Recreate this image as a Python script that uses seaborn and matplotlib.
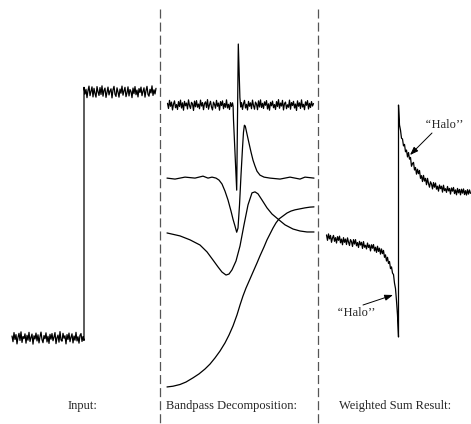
import numpy as np
import pandas as pd
import matplotlib
matplotlib.use("Agg")
import matplotlib.pyplot as plt
import seaborn as sns
from matplotlib.lines import Line2D

sns.set_style("white")
plt.rcParams['font.family'] = ['Liberation Serif', 'DejaVu Serif']
plt.rcParams['lines.scale_dashes'] = False


def samples(a, b):
    """sample positions a..b (inclusive) every half step"""
    return list(np.round(np.arange(a, b + 0.25, 0.5), 2))


# ---------------- data (amplitude units: input step = 100) ----------------
INPUT_T_LOW = samples(-36, 0)
INPUT_LOW = [0.8, -1.5, 2.2, -0.6, 1.4, -2.4, 0.3, 1.9, -1.0, 2.5,
             -1.8, 0.6, -0.2, 1.7, -2.1, 1.1, -0.9, 2.3, -1.4, 0.2,
             1.6, -2.5, 0.9, -0.4, 2.0, -1.2, 1.3, -2.0, 0.5, 2.4,
             -0.7, -1.9, 1.0, -0.3, 2.1, -1.6, 0.7, -2.2, 1.5, -0.5,
             1.8, -1.1, 0.4, 2.2, -2.3, 0.1, 1.2, -1.7, 2.6, -0.8,
             -1.3, 1.9, -0.1, 0.9, -2.4, 1.4, -0.6, 2.0, -1.5, 0.3,
             1.7, -2.0, 0.8, -0.9, 2.3, -1.2, 0.5, -2.1, 1.1, 1.8,
             -1.4, 0.6, -1.0]
INPUT_T_HIGH = samples(0, 36)
INPUT_HIGH = [101.9, 99.2, 101.1, 97.7, 100.6, 102.4, 98.5, 100.3, 102.1, 98.0,
              101.5, 99.4, 97.9, 102.2, 100.1, 98.6, 101.8, 99.0, 102.5, 98.3,
              100.7, 101.6, 97.8, 99.9, 102.0, 98.8, 100.4, 101.3, 97.6, 100.9,
              102.3, 99.1, 98.2, 101.7, 100.0, 97.9, 101.2, 99.5, 102.4, 98.7,
              100.5, 101.9, 98.1, 99.7, 102.1, 98.4, 101.0, 100.2, 97.7, 101.6,
              99.3, 102.2, 98.9, 100.8, 98.0, 101.4, 99.8, 102.0, 98.5, 100.3,
              101.7, 97.9, 100.6, 102.3, 99.0, 98.3, 101.1, 99.6, 102.5, 98.6,
              100.9, 99.2, 101.5]

# band 1 (finest, noisy)
BAND1_T = samples(-35, -2.5) + [-2.2, -2.0, -0.4, 0.4, 1.2, 1.6] + samples(2, 38)
BAND1 = [0.7, -1.4, 1.9, -0.5, 1.2, -2.0, 0.4, 1.7, -1.1, 0.2,
         -1.8, 1.4, -0.6, 2.0, -1.2, 0.9, -2.1, 1.5, -0.3, 0.8,
         -1.6, 2.1, -0.2, -1.4, 1.1, 0.5, -2.2, 1.6, -0.7, 1.8,
         -0.9, 0.4, -1.5, 2.0, -0.4, 1.0, -1.9, 0.6, 1.3, -1.0,
         2.2, -1.7, 0.1, 1.5, -0.8, -2.0, 1.2, 0.3, -1.3, 1.9,
         -0.5, 0.8, -2.1, 1.4, -0.2, 1.7, -1.5, 0.6, -0.9, 2.1,
         -1.2, 0.3, -1.8, 1.0, -0.6, 0.9,
         -0.5, -6.0, -34.6, 24.8, 3.0, -0.8,
         1.0, -1.8, 0.6, 1.9, -1.2, 0.3, -2.0, 1.5, -0.5, 0.9,
         -1.5, 2.0, -0.2, -1.7, 1.2, 0.4, -1.9, 1.7, -0.8, 2.1,
         -1.0, 0.7, -1.4, 1.3, -0.1, 1.8, -1.6, 0.5, -2.1, 1.1,
         -0.3, 1.6, -1.1, 0.2, -1.8, 1.4, -0.6, 2.2, -1.3, 0.8,
         -0.4, 1.9, -2.0, 0.6, 1.2, -1.5, 0.1, -0.9, 2.0, -1.7,
         1.0, -0.2, 1.5, -1.2, 0.4, -2.2, 1.7, -0.5, 0.9, -1.4,
         2.1, -0.8, 0.3, -1.9, 1.3, -0.1, 1.8, -1.6, 0.7, -1.0,
         1.4, -0.4, 0.6]

BAND2_T = [-35.25, -31.25, -26.25, -21.25, -17.25, -14.75, -12.75, -10.75, -9.25, -7.75,
           -6.25, -4.75, -3.25, -2.25, -1.25, -0.4, 0.25, 1.0, 1.75, 2.5,
           3.0, 3.45, 3.9, 4.75, 5.75, 6.75, 7.75, 8.75, 9.75, 11.25,
           13.25, 16.25, 21.25, 26.25, 31.25, 33.75, 38.25]
BAND2 = [0, -0.4, 0.4, 0, 0.8, 0, 0.4, 0, -0.8, -2.4,
         -5.3, -8.9, -13.4, -16.7, -19.5, -22.0, -20.3, -11.0, 1.2, 12.2,
         18.7, 21.5, 21.1, 17.9, 14.2, 10.6, 7.3, 4.9, 2.8, 1.2,
         0.4, 0, -0.4, 0.4, -0.4, 0.4, 0]

BAND3_T = [-35.25, -28.75, -23.75, -18.75, -15.25, -12.25, -9.75, -7.75, -5.75, -4.25,
           -2.75, -0.75, 1.25, 3.25, 5.25, 7.25, 8.75, 10.25, 12.25, 14.75,
           17.25, 20.75, 23.75, 27.75, 31.25, 34.75, 38.25]
BAND3 = [0, -1.2, -2.8, -4.9, -7.7, -11.0, -13.8, -15.9, -17.1, -16.7,
         -15.0, -11.4, -5.3, 3.3, 11.4, 16.3, 16.7, 15.9, 13.4, 10.2,
         7.7, 5.3, 3.3, 1.6, 0.8, 0.4, 0.4]

BAND4_T = [-35.25, -32.25, -28.75, -25.75, -22.25, -19.25, -16.25, -13.75, -11.25, -8.75,
           -6.25, -4.25, -2.25, -0.25, 1.25, 2.75, 4.25, 6.25, 7.75, 9.75,
           11.25, 13.25, 14.75, 16.25, 17.75, 19.25, 20.75, 22.75, 24.75, 26.75,
           28.75, 31.25, 33.75, 36.25, 38.25]
BAND4 = [0, 0.3, 1.0, 2.0, 3.7, 5.3, 7.3, 9.3, 11.8, 14.6,
         17.9, 21.1, 24.8, 29.3, 33.3, 37.0, 40.2, 43.9, 46.7, 50.4,
         53.3, 56.9, 59.8, 62.2, 64.6, 66.7, 68.3, 69.5, 70.7, 71.5,
         72.0, 72.4, 72.8, 73.1, 73.2]

BANDS_T = [BAND1_T, BAND2_T, BAND3_T, BAND4_T]
BANDS = [BAND1, BAND2, BAND3, BAND4]
BAND_OFFSETS = [94.7, 65.0, 42.7, -19.9]

SUM_T = samples(-36, -0.5) + [0, 0] + samples(0.5, 36)
SUM = [41.9, 39.7, 42.3, 40.3, 41.7, 38.9, 40.7, 41.7, 39.3, 40.8,
       38.6, 41.2, 39.7, 41.4, 38.7, 40.2, 37.9, 40.8, 38.9, 40.2,
       38.0, 40.7, 39.0, 37.6, 40.0, 39.2, 37.2, 40.0, 38.2, 40.0,
       37.5, 38.8, 36.8, 39.3, 37.8, 38.9, 36.4, 39.2, 36.9, 37.7,
       36.2, 38.6, 36.8, 37.8, 35.4, 37.9, 36.5, 38.0, 35.4, 36.9,
       34.8, 37.3, 35.2, 36.5, 34.1, 36.2, 34.3, 35.6, 32.8, 33.8,
       31.3, 32.8, 30.3, 31.1, 28.2, 28.9, 26.4, 25.8, 22.3, 20.1,
       15.1, 9.3,
       0.4, 94.7,
       86.6, 84.5, 81.2, 80.9, 78.1, 78.7, 75.7, 76.4, 73.6, 75.4,
       72.7, 73.4, 69.8, 70.9, 71.4, 68.3, 69.3, 66.6, 68.6, 66.8,
       68.1, 64.9, 66.0, 63.6, 66.1, 63.8, 64.9, 62.3, 64.9, 62.8,
       61.3, 63.5, 62.6, 60.6, 63.2, 61.3, 63.0, 60.5, 61.7, 59.7,
       62.2, 60.7, 61.7, 59.3, 62.1, 59.9, 60.7, 59.2, 61.6, 59.8,
       60.8, 58.5, 61.0, 59.7, 61.2, 58.7, 60.2, 58.2, 60.8, 59.0,
       60.4, 58.2, 60.5, 58.9, 60.6, 58.3, 59.9, 58.1, 60.3, 58.5,
       60.2, 58.8]

PANEL_LABELS = ["Input:", "Bandpass Decomposition:", "Weighted Sum Result:"]
HALO = "\u2018\u2018Halo\u2019\u2019"

# ---------------- layout (pixels) ----------------
W, H = 471, 424
PX_PER_T = 2.0
PX_PER_V = 2.46
ZERO_Y = 338.0
PANELS = [(0, 160, 84.0), (160, 318, 237.5), (318, 471, 398.5)]
LABEL_X = [82, 231, 395]
LABEL_Y = 406

fig = plt.figure(figsize=(W / 100, H / 100), dpi=100)
axes = []
for (L, R, sx) in PANELS:
    ax = fig.add_axes([L / W, 0, (R - L) / W, 1])
    ax.set_xlim((L - sx) / PX_PER_T, (R - sx) / PX_PER_T)
    ax.set_ylim(-(H - ZERO_Y) / PX_PER_V, ZERO_Y / PX_PER_V)
    ax.axis('off')
    axes.append(ax)

LW = 0.9
sns.lineplot(x=INPUT_T_LOW + INPUT_T_HIGH, y=INPUT_LOW + INPUT_HIGH, ax=axes[0],
             sort=False, estimator=None, color='black', lw=LW)
for t, v, off in zip(BANDS_T, BANDS, BAND_OFFSETS):
    sns.lineplot(x=t, y=np.array(v) + off, ax=axes[1], sort=False, estimator=None,
                 color='black', lw=LW)
sns.lineplot(x=SUM_T, y=SUM, ax=axes[2], sort=False, estimator=None, color='black', lw=LW)

for xp in (160, 318):
    fig.add_artist(Line2D([xp / W, xp / W], [1 - 9 / H, 0], transform=fig.transFigure,
                          color='#555555', lw=0.9, dashes=(6.5, 2.9)))

for lab, lx in zip(PANEL_LABELS, LABEL_X):
    fig.text(lx / W, 1 - LABEL_Y / H, lab, ha='center', va='center', fontsize=9)


def to_sum(px, py):
    return ((px - PANELS[2][2]) / PX_PER_T, (ZERO_Y - py) / PX_PER_V)


ap = dict(arrowstyle='-|>,head_length=0.55,head_width=0.2', lw=0.7, color='black',
          shrinkA=0, shrinkB=0, mutation_scale=9)
axes[2].annotate('', xy=to_sum(410, 155), xytext=to_sum(432, 133), arrowprops=ap)
axes[2].text(*to_sum(445, 125), HALO, ha='center', va='center', fontsize=9)
axes[2].annotate('', xy=to_sum(393, 295), xytext=to_sum(363, 305), arrowprops=ap)
axes[2].text(*to_sum(357, 313), HALO, ha='center', va='center', fontsize=9)

fig.savefig('out.png', dpi=100)
